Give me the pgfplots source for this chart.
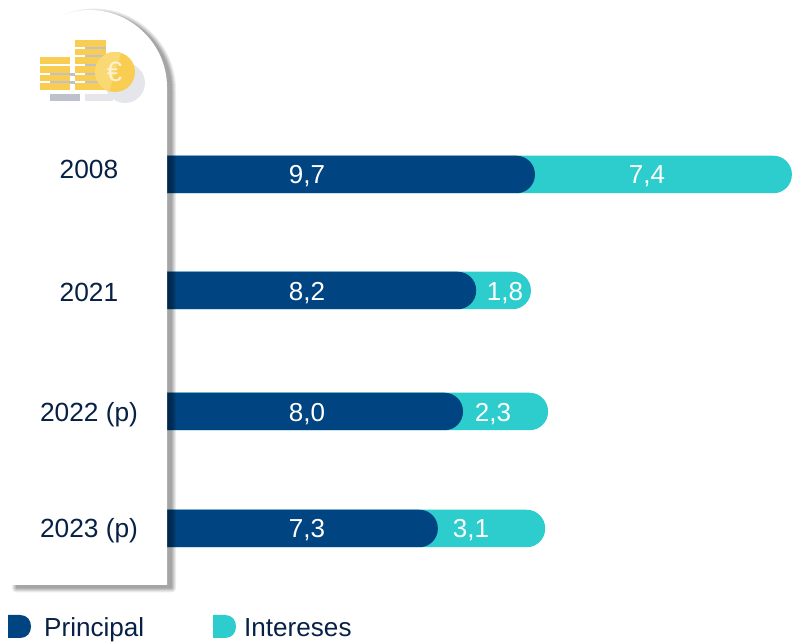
\documentclass[border=0pt]{standalone}
\usepackage{fontspec}
\setmainfont{Liberation Sans}
\usepackage{pgfplots}
\pgfplotsset{compat=1.18}
\definecolor{navy}{HTML}{004481}
\definecolor{teal2}{HTML}{2DCCCD}
\definecolor{ink}{HTML}{072146}
\definecolor{coin}{HTML}{F8CD51}
\definecolor{coinl}{HTML}{FAD873}
\definecolor{gr}{HTML}{BDC1CC}
\definecolor{grl}{HTML}{E4E6EB}
\begin{document}
\begin{tikzpicture}[x=1pt,y=1pt]
\path[use as bounding box] (0,0) rectangle (792,642);
% Bar lengths as drawn, in units of the printed values (36.5 px per unit); y = bar centre in px from the bottom
\begin{axis}[at={(0pt,0pt)},anchor=south west,scale only axis,width=792pt,height=642pt,
  hide axis,clip=true,xmin=-3.575,xmax=18.123,ymin=0,ymax=642,
  xbar,bar width=37.5pt,bar shift=0pt,x filter/.expression={x+1}]
\addplot[draw=none,fill=teal2,rounded corners=18.5pt] coordinates {(17.12,467.5) (9.97,351.5) (10.44,230.5) (10.36,113.5)};
\addplot[draw=none,fill=navy,rounded corners=18.5pt] coordinates {(10.08,467.5) (8.47,351.5) (8.11,230.5) (7.42,113.5)};
\end{axis}
\begin{scope}[y=-1pt,shift={(0pt,642pt)}]
\def\panel{(12,585) -- (12,87) .. controls (12,45) and (48,10) .. (90,10) .. controls (132,10) and (167,45) .. (167,87) -- (167,585) -- cycle}
\foreach \k in {9,7,5,3.5,2,0.5}{
  \begin{scope}[transparency group,opacity=.07]
  \filldraw[black,line join=round,line width=\k pt,shift={(4.5pt,-3pt)}] \panel;
  \end{scope}
}
\fill[white] \panel;
% icon
\fill[grl] (125,83) circle (20);
\fill[gr] (50,94) rectangle (80,101);
\fill[grl] (85,94) rectangle (113,101);
\foreach \y in {73,81}{\fill[gr] (50,\y) rectangle (75,\y+3);}
\foreach \y in {47,55,64,73,81}{\fill[gr] (85,\y) rectangle (106,\y+3);}
\foreach \y/\h in {57/7,66/7,75/6,83/7}{\fill[coin] (39.5,\y) rectangle (70,\y+\h);}
\foreach \y/\h in {40/7,49/6,57/7,66/7,75/6,83/7}{\fill[coin] (75,\y) rectangle (106,\y+\h);}
\fill[coin] (115,72) circle (20);
\begin{scope}
\clip (115,72) circle (20);
\fill[coinl] (122,50) -- (95,50) -- (95,95) -- (108,95) -- cycle;
\end{scope}
\node[anchor=center,text=white!75!coin,font=\fontsize{28}{30}\selectfont] at (114.5,72) {€};
% value labels
\foreach \x/\b/\t in {307/184/{9,7},647/184/{7,4},307/301/{8,2},505/301/{1,8},307/422/{8,0},493/422/{2,3},307/538/{7,3},471/538/{3,1}}{
  \node[anchor=base,inner sep=0,text=white,font=\fontsize{26}{30}\selectfont] at (\x,\b) {\t};
}
% categories
\foreach \b/\t in {179/2008,301.5/2021,422/2022 (p),538/2023 (p)}{
  \node[anchor=base,inner sep=0,text=ink,font=\fontsize{26.3}{30}\selectfont] at (89,\b) {\t};
}
% legend
\fill[navy] (8,615) -- (20,615) .. controls (27,615) and (31,620) .. (31,626.5) .. controls (31,633) and (27,638) .. (20,638) -- (8,638) -- cycle;
\fill[teal2] (213,615) -- (225,615) .. controls (232,615) and (236,620) .. (236,626.5) .. controls (236,633) and (232,638) .. (225,638) -- (213,638) -- cycle;
\node[anchor=base west,inner sep=0,text=ink,font=\fontsize{26.1}{30}\selectfont] at (44,637) {Principal};
\node[anchor=base west,inner sep=0,text=ink,font=\fontsize{26.1}{30}\selectfont] at (244,637) {Intereses};
\end{scope}
\end{tikzpicture}
\end{document}
